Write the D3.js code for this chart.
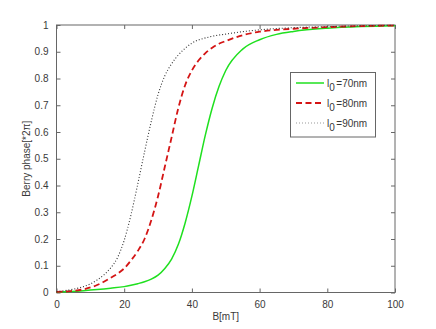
<!DOCTYPE html>
<html><head><meta charset="utf-8">
<script src="https://cdn.jsdelivr.net/npm/d3@7"></script>
<style>body{margin:0;background:#fff}svg{display:block}text{font-family:"Liberation Sans",Arial,sans-serif}</style>
</head><body><svg id="c" width="436" height="329"></svg>
<script>
// Data
const B70 = [0,4,8,12,16,20,22,24,26,28,30,32,34,36,38,40,42,44,46,48,50,55,60,65,70,80,90,100];
const V70 = [0.002,0.004,0.007,0.011,0.016,0.022,0.027,0.033,0.040,0.050,0.065,0.09,0.125,0.18,0.26,0.36,0.475,0.59,0.69,0.77,0.83,0.91,0.945,0.965,0.976,0.988,0.994,0.997];
const B80 = [0,4,8,12,14,16,18,20,22,24,26,28,30,32,34,36,38,40,42,44,46,48,50,55,60,65,70,80,90,100];
const V80 = [0.002,0.005,0.012,0.028,0.04,0.055,0.07,0.09,0.12,0.155,0.20,0.27,0.36,0.47,0.58,0.69,0.775,0.83,0.868,0.895,0.915,0.93,0.94,0.962,0.975,0.982,0.986,0.992,0.996,0.998];
const B90 = [0,4,6,8,10,12,14,16,18,20,22,24,26,28,30,32,34,36,38,40,45,50,55,60,70,80,90,100];
const V90 = [0.003,0.01,0.015,0.022,0.032,0.047,0.066,0.092,0.13,0.195,0.29,0.405,0.525,0.64,0.74,0.81,0.855,0.888,0.913,0.932,0.955,0.966,0.975,0.982,0.99,0.994,0.997,0.999];
const xTicks = [0,20,40,60,80,100];
const yTicks = [0,0.1,0.2,0.3,0.4,0.5,0.6,0.7,0.8,0.9,1];
const legendLabels = ["=70nm","=80nm","=90nm"];

const svg = d3.select("#c");
const L=56.5, R=395, T=25, Bt=292.5;
const x = d3.scaleLinear().domain([0,100]).range([L,R]);
const y = d3.scaleLinear().domain([0,1]).range([Bt,T]);
const axisCol="#666", txtCol="#3a3a3a";

// box
svg.append("rect").attr("x",L).attr("y",T).attr("width",R-L).attr("height",Bt-T)
  .attr("fill","none").attr("stroke",axisCol).attr("stroke-width",1);

function styleAxis(g){
  g.select(".domain").remove();
  g.selectAll("line").attr("stroke",axisCol);
  g.selectAll("text").attr("fill",txtCol).attr("font-size",10);
}
svg.append("g").attr("transform",`translate(0,${Bt})`)
  .call(d3.axisBottom(x).tickValues(xTicks).tickSize(-4).tickPadding(8).tickFormat(d3.format("d")))
  .call(styleAxis);
svg.append("g").attr("transform",`translate(0,${T})`)
  .call(d3.axisTop(x).tickValues(xTicks).tickSize(-4).tickFormat(""))
  .call(styleAxis);
svg.append("g").attr("transform",`translate(${L},0)`)
  .call(d3.axisLeft(y).tickValues(yTicks).tickSize(-4).tickPadding(8).tickFormat(d=>d3.format("")(+d.toFixed(1))))
  .call(styleAxis);
svg.append("g").attr("transform",`translate(${R},0)`)
  .call(d3.axisRight(y).tickValues(yTicks).tickSize(-4).tickFormat(""))
  .call(styleAxis);

// labels
svg.append("text").attr("x",(L+R)/2).attr("y",320).attr("text-anchor","middle")
  .attr("font-size",10).attr("fill",txtCol).text("B[mT]");
svg.append("text").attr("transform",`translate(30,${(T+Bt)/2}) rotate(-90)`).attr("text-anchor","middle")
  .attr("font-size",10).attr("fill",txtCol).text("Berry phase[*2\u03c0]");

const series = [
  {b:B70,v:V70,color:"#1fe01f",w:1.5,dash:null},
  {b:B80,v:V80,color:"#d41414",w:1.8,dash:"6,3.5"},
  {b:B90,v:V90,color:"#333",w:1.1,dash:"1,2"}
];
const line = d3.line().x(d=>x(d[0])).y(d=>y(d[1])).curve(d3.curveMonotoneX);
series.forEach(s=>{
  svg.append("path").datum(s.b.map((b,i)=>[b,s.v[i]]))
    .attr("d",line).attr("fill","none").attr("stroke",s.color)
    .attr("stroke-width",s.w).attr("stroke-dasharray",s.dash);
});

// legend
const lg = svg.append("g");
lg.append("rect").attr("x",290.5).attr("y",72.5).attr("width",85).attr("height",64.5)
  .attr("fill","#fff").attr("stroke",axisCol).attr("stroke-width",1);
const legCols = ["#1fe01f","#d41414","#999"];
legendLabels.forEach((lab,i)=>{
  const yy = 83 + i*20;
  const s = series[i];
  lg.append("line").attr("x1",296).attr("x2",324).attr("y1",yy).attr("y2",yy)
    .attr("stroke",legCols[i]).attr("stroke-width",s.w).attr("stroke-dasharray",s.dash);
  const t = lg.append("text").attr("x",327).attr("y",yy+3.5).attr("font-size",10).attr("fill",txtCol);
  t.append("tspan").text("l");
  t.append("tspan").attr("dy",4).attr("font-size",10).text("0");
  t.append("tspan").attr("dy",-4).attr("dx",1.5).text(lab);
});
</script></body></html>
